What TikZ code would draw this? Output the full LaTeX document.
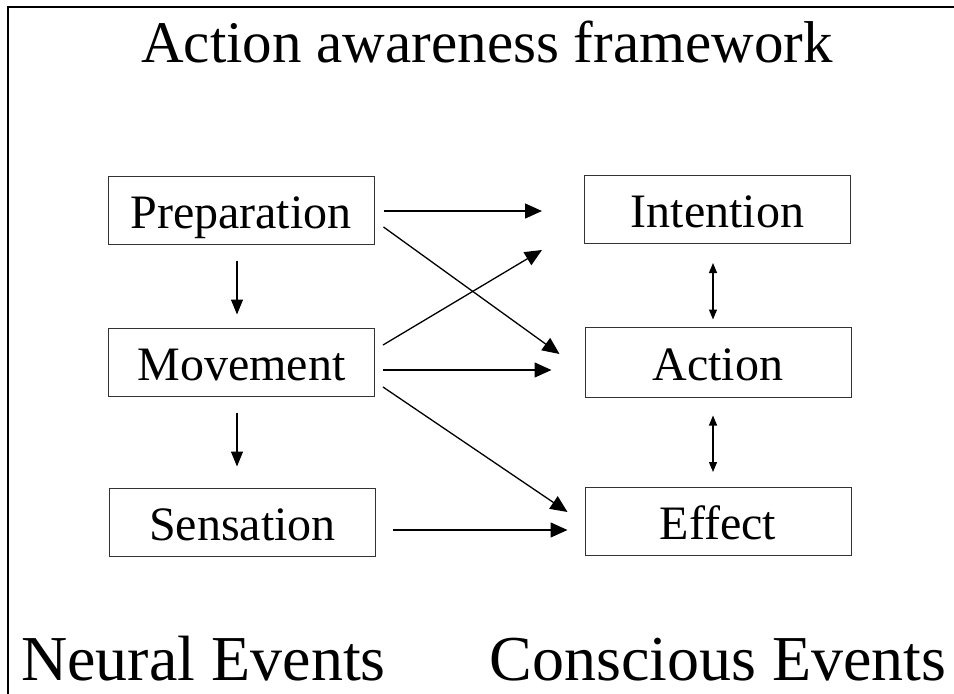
\documentclass[tikz,border=0pt]{standalone}
\usepackage{fontspec}
\setmainfont{Liberation Serif}
\usetikzlibrary{arrows.meta,calc}
\begin{document}
\begin{tikzpicture}[x=1pt,y=-1pt,
  box/.style={draw=black!80,line width=1pt,minimum width=266pt,minimum height=68pt,
    text height=44pt,text depth=8pt,inner ysep=8pt,inner xsep=0pt,
    font=\fontsize{48}{48}\selectfont},
  arr/.style={line width=1.3pt,-{Triangle[length=17pt,width=15pt]}},
  varr/.style={line width=1.2pt,-{Triangle[length=15pt,width=12pt]}},
  darr/.style={line width=1.2pt,{Triangle[length=10pt,width=8pt]}-{Triangle[length=10pt,width=8pt]}},
  big/.style={font=\fontsize{62}{62}\selectfont,inner sep=0pt,anchor=base}]
\useasboundingbox (0,0) rectangle (954,694);
\draw[line width=2pt] (8,694) -- (8,7) -- (954,7);
\node[big,font=\fontsize{59}{59}\selectfont] (title) at (487,62) {Action awareness framework};
\node[big,font=\fontsize{64}{64}\selectfont] (neural) at (203.5,680) {Neural Events};
\node[big,font=\fontsize{64}{64}\selectfont] (consc) at (718,680) {Conscious Events};
\node[box] (p) at (241,210) {Preparation};
\node[box] (m) at (241.5,362) {Movement};
\node[box] (s) at (242.5,522) {Sensation};
\node[box] (i) at (717.5,209.5) {Intention};
\node[box,minimum height=70pt] (a) at (718,362) {Action};
\node[box] (e) at (718,521.5) {Effect};
\draw[arr] ($(p.east)+(9,1)$) -- ($(i.west)+(-42,1.5)$);
\draw[arr] ($(p.east)+(9,17)$) -- ($(a.west)+(-25,-8)$);
\draw[arr] ($(m.east)+(8,-17)$) -- ($(i.west)+(-42,40.5)$);
\draw[arr] ($(m.east)+(8,8)$) -- ($(a.west)+(-33,8)$);
\draw[arr] ($(m.east)+(8,25)$) -- ($(e.west)+(-17,-9.5)$);
\draw[arr] ($(s.east)+(17,8)$) -- ($(e.west)+(-17,8.5)$);
\draw[varr] ($(p.south)+(-4,16)$) -- ($(m.north)+(-4.5,-13)$);
\draw[varr] ($(m.south)+(-4.5,16)$) -- ($(s.north)+(-5.5,-21)$);
\draw[darr] ($(i.south)+(-4.5,19)$) -- ($(a.north)+(-5,-7)$);
\draw[darr] ($(a.south)+(-5,18)$) -- ($(e.north)+(-5,-15)$);
\end{tikzpicture}
\end{document}
